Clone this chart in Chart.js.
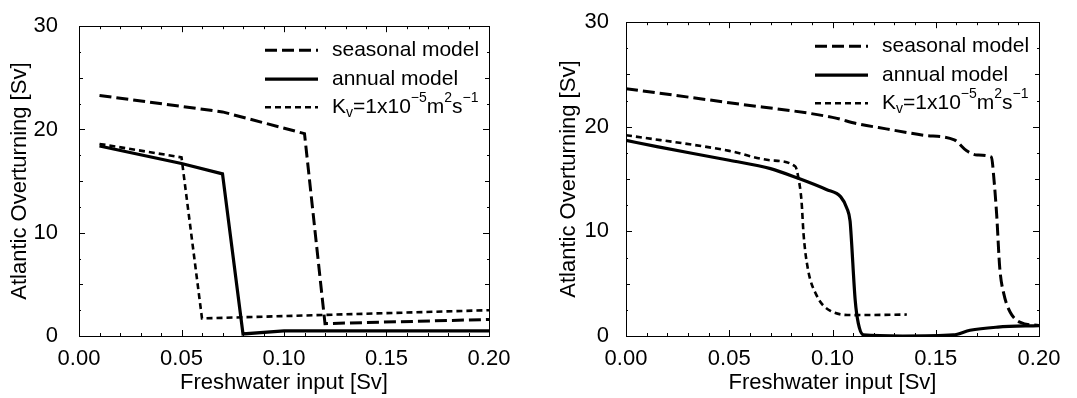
<!DOCTYPE html>
<html>
<meta charset="UTF-8">
<script src="https://cdn.jsdelivr.net/npm/chart.js"></script>
<head>
    <title>Atlantic Overturning</title>
    <style>
        body { margin: 0; background: #fff; }
        #wrap { position: relative; width: 1077px; height: 398px; }
        .panel { position: absolute; top: 0; height: 398px; }
    </style>
</head>
<body>
<div id="wrap">
    <div class="panel" style="left:0;width:537px"><canvas id="left" width="537" height="398"></canvas></div>
    <div class="panel" style="left:537px;width:540px"><canvas id="right" width="540" height="398"></canvas></div>
</div>
<script>
// left panel
const leftSeasonalX = [0.01, 0.07, 0.11, 0.12, 0.20];
const leftSeasonalY = [23.3, 21.7, 19.6, 1.2, 1.6];
const leftAnnualX = [0.01, 0.05, 0.07, 0.08, 0.10, 0.20];
const leftAnnualY = [18.4, 16.7, 15.7, 0.2, 0.5, 0.5];
const leftKvX = [0.01, 0.05, 0.06, 0.20];
const leftKvY = [18.6, 17.3, 1.7, 2.5];

// right panel
const rightSeasonalX = [0.0, 0.05, 0.10, 0.112, 0.126, 0.144, 0.159, 0.165, 0.170, 0.177, 0.178, 0.1795, 0.181, 0.183, 0.186, 0.191, 0.20];
const rightSeasonalY = [23.65, 22.3, 20.9, 20.3, 19.8, 19.2, 18.75, 17.7, 17.3, 17.1, 15.4, 11.6, 6.5, 4.0, 2.3, 1.3, 1.0];
const rightAnnualX = [0.0, 0.015, 0.05, 0.07, 0.083, 0.097, 0.104, 0.107, 0.1085, 0.109, 0.111, 0.1125, 0.115, 0.134, 0.1585, 0.1666, 0.18, 0.20];
const rightAnnualY = [18.7, 18.1, 16.8, 16.0, 15.1, 14.0, 13.3, 12.2, 11.0, 9.7, 3.4, 1.2, 0.1, 0.0, 0.1, 0.55, 0.85, 1.0];
const rightKvX = [0.0, 0.05, 0.07, 0.082, 0.0835, 0.085, 0.086, 0.088, 0.092, 0.099, 0.110, 0.136];
const rightKvY = [19.2, 17.7, 16.8, 16.2, 15.1, 12.9, 9.7, 6.5, 4.0, 2.4, 2.0, 2.05];

const legendLabels = ['seasonal model', 'annual model', 'Kv'];
const xTicks = [0.00, 0.05, 0.10, 0.15, 0.20];
const yTicks = [0, 10, 20, 30];
const xTitle = 'Freshwater input [Sv]';
const yTitle = 'Atlantic Overturning [Sv]';

Chart.defaults.font.family = '"Liberation Sans", Arial, sans-serif';
Chart.defaults.font.size = 22;
Chart.defaults.color = '#000';

function pts(xs, ys) {
    return xs.map((x, i) => ({x: x, y: ys[i]}));
}

// box and inward tick marks (major + minor)
const frameTicks = {
    id: 'frameTicks',
    afterDraw(chart) {
        const {ctx, chartArea: a, scales: {x, y}} = chart;
        ctx.save();
        ctx.strokeStyle = '#000';
        ctx.lineWidth = 1;
        ctx.strokeRect(Math.round(a.left) + .5, Math.round(a.top) + .5, Math.round(a.right - a.left), Math.round(a.bottom - a.top));
        ctx.beginPath();
        for (let i = 0; i <= 20; i++) {
            const px = Math.round(x.getPixelForValue(i * 0.01)) + .5;
            const len = i % 5 === 0 ? 6 : 3;
            ctx.moveTo(px, a.bottom); ctx.lineTo(px, a.bottom - len);
            ctx.moveTo(px, a.top); ctx.lineTo(px, a.top + len);
        }
        for (let v = 0; v <= 30; v += 2.5) {
            const py = Math.round(y.getPixelForValue(v)) + .5;
            const len = v % 10 === 0 ? 6 : (v % 5 === 0 ? 4 : 2);
            ctx.moveTo(a.left, py); ctx.lineTo(a.left + len, py);
            ctx.moveTo(a.right, py); ctx.lineTo(a.right - len, py);
        }
        ctx.stroke();
        ctx.restore();
    }
};

// legend with sub/superscripts
const kvLegend = {
    id: 'kvLegend',
    afterDraw(chart) {
        const {ctx, chartArea: a} = chart;
        const ds = chart.data.datasets;
        const x0 = a.right - 224, x1 = a.right - 171, tx = a.right - 157;
        const rows = [a.top + 24, a.top + 53, a.top + 81];
        ctx.save();
        ds.forEach((d, i) => {
            ctx.beginPath();
            ctx.setLineDash(d.borderDash || []);
            ctx.lineWidth = d.borderWidth;
            ctx.strokeStyle = '#000';
            ctx.moveTo(x0, rows[i]); ctx.lineTo(x1, rows[i]);
            ctx.stroke();
        });
        ctx.setLineDash([]);
        ctx.fillStyle = '#000';
        ctx.textBaseline = 'middle';
        const big = '21px "Liberation Sans", Arial, sans-serif';
        const small = '14px "Liberation Sans", Arial, sans-serif';
        ctx.font = big;
        ctx.fillText(legendLabels[0], tx, rows[0]);
        ctx.fillText(legendLabels[1], tx, rows[1]);
        // K_v=1x10^-5 m^2 s^-1
        const parts = [
            ['K', big, 0], ['v', small, 6], ['=1x10', big, 0], ['\u22125', small, -9],
            ['m', big, 0], ['2', small, -9], ['s', big, 0], ['\u22121', small, -9]
        ];
        let cx = tx;
        parts.forEach(p => {
            ctx.font = p[1];
            ctx.fillText(p[0], cx, rows[2] + p[2]);
            cx += ctx.measureText(p[0]).width;
        });
        ctx.restore();
    }
};

function makeChart(id, sets, yw, padRight, yTitlePad, yTickPad, smooth) {
    const styles = [
        {borderDash: [12, 5], borderWidth: 3},
        {borderDash: [], borderWidth: 3.2},
        {borderDash: [6, 4], borderWidth: 2.6}
    ];
    return new Chart(document.getElementById(id), {
        type: 'line',
        data: {
            datasets: sets.map((s, i) => ({
                label: legendLabels[i],
                data: s,
                borderColor: '#000',
                borderWidth: styles[i].borderWidth,
                borderDash: styles[i].borderDash,
                pointRadius: 0,
                fill: false,
                cubicInterpolationMode: smooth ? 'monotone' : 'default',
                tension: 0
            }))
        },
        options: {
            responsive: false,
            animation: false,
            devicePixelRatio: 1,
            layout: {padding: {top: 19, right: padRight, left: 0, bottom: 0}},
            plugins: {legend: {display: false}, tooltip: {enabled: false}},
            scales: {
                x: {
                    type: 'linear', min: 0, max: 0.2,
                    afterBuildTicks: s => { s.ticks = xTicks.map(v => ({value: v})); },
                    ticks: {padding: 2, maxRotation: 0, callback: v => v.toFixed(2)},
                    grid: {display: false},
                    border: {display: false},
                    title: {display: true, text: xTitle, padding: {top: 0, bottom: 2}},
                    afterFit: s => { s.height = 62; }
                },
                y: {
                    type: 'linear', min: 0, max: 30,
                    afterBuildTicks: s => { s.ticks = yTicks.map(v => ({value: v})); },
                    ticks: {padding: yTickPad},
                    grid: {display: false},
                    border: {display: false},
                    title: {display: true, text: yTitle, padding: {top: yTitlePad, bottom: 0}},
                    afterFit: s => { s.width = yw; }
                }
            }
        },
        plugins: [frameTicks, kvLegend]
    });
}

makeChart('left', [pts(leftSeasonalX, leftSeasonalY), pts(leftAnnualX, leftAnnualY), pts(leftKvX, leftKvY)],
    79, 48, 7, 13, false);
makeChart('right', [pts(rightSeasonalX, rightSeasonalY), pts(rightAnnualX, rightAnnualY), pts(rightKvX, rightKvY)],
    89, 38, 19, 9, true);
</script>
</body>
</html>
